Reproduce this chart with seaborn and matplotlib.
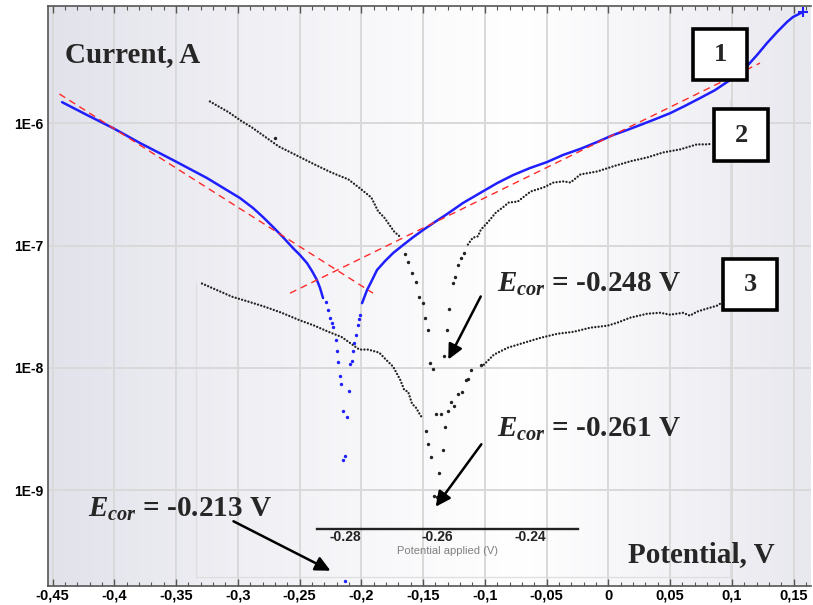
import numpy as np
import pandas as pd
import matplotlib
matplotlib.use("Agg")
import matplotlib.pyplot as plt
import seaborn as sns
from matplotlib.patches import Rectangle, FancyArrowPatch
from matplotlib.lines import Line2D
from matplotlib.colors import LinearSegmentedColormap
from matplotlib.ticker import LogLocator, NullFormatter, FixedLocator

# ---------------- data ----------------
# curve 1 (blue) : cathodic dense part, sparse dots around Ecor, anodic dense part
c1_cath_x = [-0.4423, -0.4221, -0.4011, -0.3792, -0.3525, -0.3250, -0.3088, -0.2983,
             -0.2877, -0.2796, -0.2715, -0.2634, -0.2553, -0.2496, -0.2440, -0.2399,
             -0.2359, -0.2334, -0.2310]
c1_cath_y = [1.49e-6, 1.17e-6, 9.15e-7, 6.90e-7, 5.01e-7, 3.57e-7, 2.84e-7, 2.45e-7,
             2.03e-7, 1.71e-7, 1.42e-7, 1.17e-7, 9.53e-8, 8.35e-8, 7.19e-8, 6.18e-8,
             5.22e-8, 4.49e-8, 3.72e-8]
c1_dots_x = [-0.2282, -0.2266, -0.2250, -0.2234, -0.2226, -0.2202, -0.2194, -0.2185,
             -0.2169, -0.2161, -0.2145, -0.2145, -0.2129, -0.2129, -0.2113, -0.2097,
             -0.2089, -0.2073, -0.2065, -0.2056, -0.2040, -0.2024, -0.2016, -0.2008]
c1_dots_y = [3.47e-8, 2.99e-8, 2.57e-8, 2.34e-8, 2.17e-8, 1.70e-8, 1.38e-8, 1.12e-8,
             8.6e-9, 7.4e-9, 4.45e-9, 1.76e-9, 1.8e-10, 1.9e-9, 3.96e-9, 6.5e-9,
             1.08e-8, 1.14e-8, 1.38e-8, 1.6e-8, 1.86e-8, 2.25e-8, 2.52e-8, 2.72e-8]
c1_anod_x = [-0.1994, -0.1954, -0.1913, -0.1873, -0.1808, -0.1743, -0.1662, -0.1581,
             -0.1500, -0.1404, -0.1306, -0.1177, -0.1039, -0.0901, -0.0772, -0.0634,
             -0.0497, -0.0367, -0.0229, -0.0091, 0.0038, 0.0151, 0.0257, 0.0378,
             0.0500, 0.0621, 0.0743, 0.0864, 0.0985, 0.1123, 0.1204, 0.1285,
             0.1366, 0.1447, 0.1495, 0.1576]
c1_anod_y = [3.38e-8, 4.32e-8, 5.22e-8, 6.31e-8, 7.47e-8, 8.68e-8, 1.01e-7, 1.17e-7,
             1.34e-7, 1.56e-7, 1.81e-7, 2.23e-7, 2.69e-7, 3.24e-7, 3.77e-7, 4.31e-7,
             4.82e-7, 5.51e-7, 6.17e-7, 7.03e-7, 8.02e-7, 8.81e-7, 9.68e-7, 1.08e-6,
             1.21e-6, 1.39e-6, 1.61e-6, 1.87e-6, 2.26e-6, 2.94e-6, 3.62e-6, 4.54e-6,
             5.58e-6, 6.75e-6, 7.41e-6, 8.15e-6]

# curve 2 (black, upper)
c2_cath_x = [-0.3226, -0.3073, -0.2968, -0.2887, -0.2669, -0.2540, -0.2379, -0.2242,
             -0.2105, -0.2000, -0.1919, -0.1863, -0.1815, -0.1734, -0.1677]
c2_cath_y = [1.51e-6, 1.23e-6, 1.04e-6, 9.27e-7, 6.47e-7, 5.57e-7, 4.61e-7, 3.96e-7,
             3.48e-7, 2.88e-7, 2.47e-7, 1.90e-7, 1.70e-7, 1.30e-7, 1.16e-7]
c2_dots_x = [-0.1645, -0.1621, -0.1589, -0.1556, -0.1532, -0.1500, -0.1484, -0.1460,
             -0.1444, -0.1419, -0.1331, -0.1306, -0.1290, -0.1258, -0.1242, -0.1218,
             -0.1194, -0.1169, -0.2695]
c2_dots_y = [8.6e-8, 7.39e-8, 6.01e-8, 5.07e-8, 3.82e-8, 3.41e-8, 2.57e-8, 2.05e-8,
             1.1e-8, 9.8e-9, 1.25e-8, 2.05e-8, 3.05e-8, 4.98e-8, 5.57e-8, 6.98e-8,
             7.97e-8, 8.77e-8, 7.6e-7]
c2_anod_x = [-0.1137, -0.1097, -0.1056, -0.1032, -0.0976, -0.0911, -0.0855, -0.0806,
             -0.0734, -0.0629, -0.0524, -0.0444, -0.0363, -0.0306, -0.0226, -0.0089,
             0.0040, 0.0177, 0.0315, 0.0444, 0.0581, 0.0718, 0.0798, 0.0840]
c2_anod_y = [1.02e-7, 1.16e-7, 1.19e-7, 1.35e-7, 1.55e-7, 1.86e-7, 2.05e-7, 2.25e-7,
             2.29e-7, 2.77e-7, 2.99e-7, 3.28e-7, 3.35e-7, 3.28e-7, 3.82e-7, 4.04e-7,
             4.45e-7, 4.89e-7, 5.26e-7, 5.78e-7, 6.12e-7, 6.73e-7, 6.73e-7, 6.8e-7]

# curve 3 (black, lower)
c3_cath_x = [-0.3290, -0.3048, -0.2911, -0.2782, -0.2645, -0.2508, -0.2379, -0.2266,
             -0.2161, -0.2081, -0.2016, -0.1944, -0.1855, -0.1798, -0.1742, -0.1685,
             -0.1653, -0.1621, -0.1589, -0.1556, -0.1524, -0.1500]
c3_cath_y = [4.89e-8, 3.82e-8, 3.47e-8, 3.16e-8, 2.82e-8, 2.47e-8, 2.21e-8, 1.97e-8,
             1.79e-8, 1.57e-8, 1.41e-8, 1.41e-8, 1.33e-8, 1.16e-8, 1.02e-8, 7.97e-9,
             6.6e-9, 6.36e-9, 5.07e-9, 4.7e-9, 4.12e-9, 3.82e-9]
c3_dots_x = [-0.1476, -0.1460, -0.1435, -0.1411, -0.1387, -0.1371, -0.1339, -0.1323,
             -0.1395, -0.1355, -0.1298, -0.1274, -0.1250, -0.1218, -0.1185, -0.1153,
             -0.1137, -0.1113, -0.1032]
c3_dots_y = [3.05e-9, 2.38e-9, 1.86e-9, 8.93e-10, 8.77e-10, 1.38e-9, 2.13e-9, 3.28e-9,
             4.2e-9, 4.2e-9, 4.45e-9, 5.26e-9, 4.89e-9, 6.12e-9, 6.36e-9, 7.97e-9,
             8.13e-9, 9.64e-9, 1.06e-8]
c3_anod_x = [-0.1008, -0.0927, -0.0815, -0.0685, -0.0548, -0.0411, -0.0282, -0.0145,
             -0.0008, 0.0073, 0.0177, 0.0315, 0.0419, 0.0500, 0.0605, 0.0661,
             0.0718, 0.0798, 0.0879, 0.0919]
c3_anod_y = [1.06e-8, 1.28e-8, 1.46e-8, 1.60e-8, 1.76e-8, 1.90e-8, 1.97e-8, 2.13e-8,
             2.21e-8, 2.34e-8, 2.57e-8, 2.77e-8, 2.82e-8, 2.72e-8, 2.82e-8, 2.67e-8,
             2.88e-8, 3.05e-8, 3.22e-8, 3.41e-8]

# Tafel extrapolation lines
tafel_cath_x = [-0.4445, -0.1905]
tafel_cath_y = [1.74e-6, 4.08e-8]
tafel_anod_x = [-0.2577, 0.1228]
tafel_anod_y = [4.08e-8, 3.11e-6]

# axis ticks
x_ticks = [-0.45, -0.40, -0.35, -0.30, -0.25, -0.20, -0.15, -0.10, -0.05, 0.0, 0.05, 0.10, 0.15]
x_tick_labels = ["-0,45", "-0,4", "-0,35", "-0,3", "-0,25", "-0,2", "-0,15", "-0,1",
                 "-0,05", "0", "0,05", "0,1", "0,15"]
y_ticks = [1e-9, 1e-8, 1e-7, 1e-6]
y_tick_labels = ["1E-9", "1E-8", "1E-7", "1E-6"]

inset_ticks = [-0.28, -0.26, -0.24]
inset_tick_labels = ["-0.28", "-0.26", "-0.24"]
inset_minor = [-0.27, -0.25, -0.23]

ecor_labels = ["-0.248 V", "-0.261 V", "-0.213 V"]
box_labels = ["1", "2", "3"]

# ---------------- style ----------------
sns.set_theme(style="white")
plt.rcParams["font.family"] = ["Liberation Sans", "DejaVu Sans"]
plt.rcParams["mathtext.fontset"] = "custom"
plt.rcParams["mathtext.it"] = "Liberation Serif:italic:bold"
plt.rcParams["mathtext.rm"] = "Liberation Serif:bold"
plt.rcParams["mathtext.bf"] = "Liberation Serif:bold"

W, H = 813, 605
fig = plt.figure(figsize=(W / 100, H / 100), dpi=100)


def fx(px):
    return px / W


def fy(py):
    return 1 - py / H


L, R, T, B = 48, 811, 6, 586
pos = [fx(L), fy(B), (R - L) / W, (B - T) / H]

# background gradient
ax_bg = fig.add_axes(pos, zorder=-1)
cmap = LinearSegmentedColormap.from_list(
    "bg", [(0.0, "#e2e2eb"), (0.45, "#f9f9fb"), (0.62, "#ffffff"), (1.0, "#e8e8ef")])
ax_bg.imshow(np.linspace(0, 1, 256)[None, :], aspect="auto", cmap=cmap, extent=[0, 1, 0, 1])
ax_bg.axis("off")

ax = fig.add_axes(pos, zorder=1)
ax.set_facecolor("none")
ax.set_yscale("log")
ax.set_xlim(-0.4537, 0.1641)
ax.set_ylim(1.64e-10, 9.12e-6)

blue = "#1f1fff"
dotc = "#222222"
dotted = (0, (0.01, 1.4))

# blue curve
sns.lineplot(x=c1_cath_x, y=c1_cath_y, ax=ax, color=blue, lw=1.8, sort=False, estimator=None,
             solid_joinstyle="round")
sns.lineplot(x=c1_anod_x, y=c1_anod_y, ax=ax, color=blue, lw=1.8, sort=False, estimator=None,
             solid_joinstyle="round")
sns.scatterplot(x=c1_dots_x, y=c1_dots_y, ax=ax, color=blue, s=6, linewidth=0)
sns.scatterplot(x=c1_anod_x[-1:], y=c1_anod_y[-1:], ax=ax, color=blue, marker="+", s=45, linewidth=1.5)

# black curves
for xs, ys in [(c2_cath_x, c2_cath_y), (c2_anod_x, c2_anod_y),
               (c3_cath_x, c3_cath_y), (c3_anod_x, c3_anod_y)]:
    sns.lineplot(x=xs, y=ys, ax=ax, color=dotc, lw=1.7, linestyle=dotted,
                 dash_capstyle="round", sort=False, estimator=None)
for xs, ys in [(c2_dots_x, c2_dots_y), (c3_dots_x, c3_dots_y)]:
    sns.scatterplot(x=xs, y=ys, ax=ax, color=dotc, s=6, linewidth=0)

# Tafel lines
for xs, ys in [(tafel_cath_x, tafel_cath_y), (tafel_anod_x, tafel_anod_y)]:
    sns.lineplot(x=xs, y=ys, ax=ax, color="#ff2a2a", lw=1.0, linestyle=(0, (5, 3.5)),
                 sort=False, estimator=None)

# axes styling
ax.set_xticks(x_ticks)
ax.set_xticklabels(x_tick_labels)
ax.xaxis.set_minor_locator(FixedLocator(np.round(np.arange(-0.45, 0.165, 0.01), 3)))
ax.set_yticks(y_ticks)
ax.set_yticklabels(y_tick_labels)
ax.yaxis.set_minor_locator(LogLocator(base=10, subs=np.arange(2, 10)))
ax.yaxis.set_minor_formatter(NullFormatter())
ax.tick_params(axis="both", which="both", direction="in", colors="#555555",
               labelcolor="black")
ax.tick_params(axis="x", which="both", top=True, bottom=True)
ax.tick_params(axis="x", which="major", length=5, width=1.0, pad=2, labelsize=10.5)
ax.tick_params(axis="x", which="minor", length=3, width=0.8)
ax.tick_params(axis="y", which="major", length=5, width=1.0, pad=3, labelsize=10)
ax.tick_params(axis="y", which="minor", length=3, width=0.8)
for lab in ax.get_xticklabels() + ax.get_yticklabels():
    lab.set_fontweight("bold")
ax.grid(True, which="major", color="#d9d9d9", lw=1.4)
ax.set_axisbelow(True)
for side in ["left", "bottom", "top"]:
    ax.spines[side].set_color("#555555")
    ax.spines[side].set_linewidth(1.2)
ax.spines["right"].set_visible(False)
ax.set_xlabel("")
ax.set_ylabel("")

# faint leftover frame of the inset
for (x0, y0, x1, y1) in [(196, 283, 196, 577), (196, 577, 730, 577), (730, 100, 730, 577)]:
    ax.add_line(Line2D([fx(x0), fx(x1)], [fy(y0), fy(y1)], transform=fig.transFigure,
                       color="#dedede", lw=0.9, zorder=0.5))

# inset axis
ax_in = fig.add_axes([fx(317), fy(529), (578 - 317) / W, 0.03], zorder=3)
ax_in.set_facecolor("none")
ax_in.set_xlim(-0.2861, -0.2296)
ax_in.set_yticks([])
for side in ["left", "right", "top"]:
    ax_in.spines[side].set_visible(False)
ax_in.spines["bottom"].set_color("#222222")
ax_in.spines["bottom"].set_linewidth(1.7)
ax_in.set_xticks(inset_ticks)
ax_in.set_xticklabels(inset_tick_labels)
ax_in.xaxis.set_minor_locator(FixedLocator(inset_minor))
ax_in.tick_params(axis="x", which="both", direction="in", color="#222222", width=1.5)
ax_in.tick_params(axis="x", which="major", length=5, pad=1, labelsize=10)
ax_in.tick_params(axis="x", which="minor", length=3)
for lab in ax_in.get_xticklabels():
    lab.set_fontweight("bold")
    lab.set_color("#222222")
ax_in.set_xlabel("Potential applied (V)", fontsize=8, color="#808080", labelpad=1)

# axis titles
serif = ["Liberation Serif", "DejaVu Serif"]
fig.text(fx(65), fy(62), "Current, A", family=serif, weight="bold", size=21, va="baseline")
fig.text(fx(628), fy(562), "Potential, V", family=serif, weight="bold", size=21, va="baseline")

# Ecor annotations
ecor_pos = [(497, 292), (497, 437), (88, 517)]
for (px, py), lab in zip(ecor_pos, ecor_labels):
    fig.text(fx(px), fy(py), r"$E_{cor}$" + " = " + lab, family=serif, weight="bold",
             size=21, va="baseline", zorder=6)

arrows = [((482, 294), (447, 362)), ((483, 442), (434, 509)), ((231, 520), (333, 572))]
for (t, h) in arrows:
    fig.add_artist(FancyArrowPatch((fx(t[0]), fy(t[1])), (fx(h[0]), fy(h[1])),
                                   transform=fig.transFigure,
                                   arrowstyle="-|>,head_length=0.45,head_width=0.22",
                                   mutation_scale=20, lw=1.8, color="black", zorder=6))

# numbered boxes
boxes = [(693, 29, 747, 80), (714, 109, 768, 161), (723, 259, 777, 310)]
for (x0, y0, x1, y1), lab in zip(boxes, box_labels):
    fig.add_artist(Rectangle((fx(x0), fy(y1)), (x1 - x0) / W, (y1 - y0) / H,
                             transform=fig.transFigure, facecolor="white",
                             edgecolor="black", lw=2.6, zorder=6))
    fig.text(fx((x0 + x1) / 2), fy((y0 + y1) / 2), lab, family=serif, weight="bold",
             size=19, ha="center", va="center", zorder=7)

fig.savefig("out.png", dpi=100)
